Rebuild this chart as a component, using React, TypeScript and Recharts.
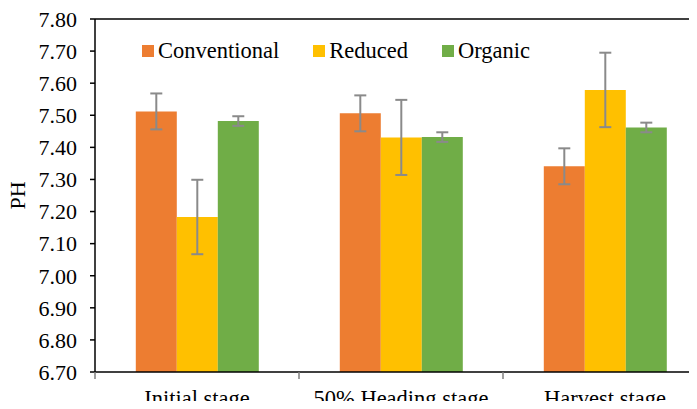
import { ComposedChart, Bar, XAxis, YAxis, ErrorBar, Legend, ReferenceLine } from "recharts";

const stages = ["Initial stage", "50% Heading stage", "Harvest stage"];
const conventional = [7.512, 7.506, 7.341];
const reduced = [7.183, 7.431, 7.579];
const organic = [7.482, 7.432, 7.462];
const conventionalErr = [0.056, 0.056, 0.056];
const reducedErr = [0.116, 0.117, 0.116];
const organicErr = [0.015, 0.015, 0.015];
const yTicks = [6.7, 6.8, 6.9, 7.0, 7.1, 7.2, 7.3, 7.4, 7.5, 7.6, 7.7, 7.8];

const series = [
  { key: "conventional", name: "Conventional", color: "#ED7D31" },
  { key: "reduced", name: "Reduced", color: "#FFC000" },
  { key: "organic", name: "Organic", color: "#70AD47" },
];

const data = stages.map((stage, i) => ({
  stage,
  conventional: conventional[i],
  reduced: reduced[i],
  organic: organic[i],
  conventionalErr: conventionalErr[i],
  reducedErr: reducedErr[i],
  organicErr: organicErr[i],
}));

const FONT = "Liberation Serif";
const BAND = 204;

function StageTick(props: any) {
  const { x, y, payload } = props;
  return (
    <g>
      <line x1={x - BAND / 2} y1={y} x2={x - BAND / 2} y2={y + 7} stroke="#7f7f7f" strokeWidth={1.5} />
      <text x={x} y={y + 34} textAnchor="middle" style={{ fontFamily: FONT, fontSize: 22.5 }} fill="#000">
        {payload.value}
      </text>
    </g>
  );
}

function LegendBox() {
  return (
    <div style={{ display: "flex", gap: 34, fontFamily: FONT, fontSize: 22.5, color: "#000", whiteSpace: "nowrap" }}>
      {series.map((s) => (
        <div key={s.key} style={{ display: "flex", alignItems: "center" }}>
          <span style={{ width: 12, height: 12, background: s.color, marginRight: 4, display: "inline-block" }} />
          <span>{s.name}</span>
        </div>
      ))}
    </div>
  );
}

export default function App() {
  return (
    <div
      style={{ margin: -8, width: 697, height: 409, overflow: "hidden", background: "#fff", fontFamily: FONT }}
    >
      <ComposedChart
        width={720}
        height={409}
        data={data}
        margin={{ top: 19, right: 13, bottom: 0, left: 0 }}
        barCategoryGap="20%"
        barGap={0}
        style={{ fontFamily: FONT }}
      >
        <XAxis
          dataKey="stage"
          height={37}
          tickLine={false}
          tickSize={0}
          tickMargin={0}
          axisLine={{ stroke: "#000", strokeWidth: 1.5 }}
          tick={<StageTick />}
          interval={0}
        />
        <YAxis
          width={95}
          domain={[6.7, 7.8]}
          ticks={yTicks}
          interval={0}
          tickFormatter={(v: number) => v.toFixed(2)}
          tickSize={5}
          tickMargin={13}
          axisLine={{ stroke: "#000", strokeWidth: 1.5 }}
          tickLine={{ stroke: "#000", strokeWidth: 1.5 }}
          tick={{ fontSize: 22, fill: "#000", style: { fontFamily: FONT } }}
          label={{
            value: "PH",
            angle: -90,
            position: "insideLeft",
            offset: 17,
            style: { textAnchor: "middle", fontFamily: FONT, fontSize: 22, fill: "#000" },
          }}
        />
        <ReferenceLine y={7.8} stroke="#000" strokeWidth={1.5} />
        <Legend
          verticalAlign="middle"
          align="center"
          layout="horizontal"
          content={<LegendBox />}
          wrapperStyle={{ position: "absolute", top: 38, left: 142, width: "auto" }}
        />
        {series.map((s) => (
          <Bar key={s.key} dataKey={s.key} name={s.name} fill={s.color} isAnimationActive={false}>
            <ErrorBar dataKey={`${s.key}Err`} width={6} stroke="#8a8a8a" strokeWidth={2} direction="y" />
          </Bar>
        ))}
      </ComposedChart>
    </div>
  );
}
